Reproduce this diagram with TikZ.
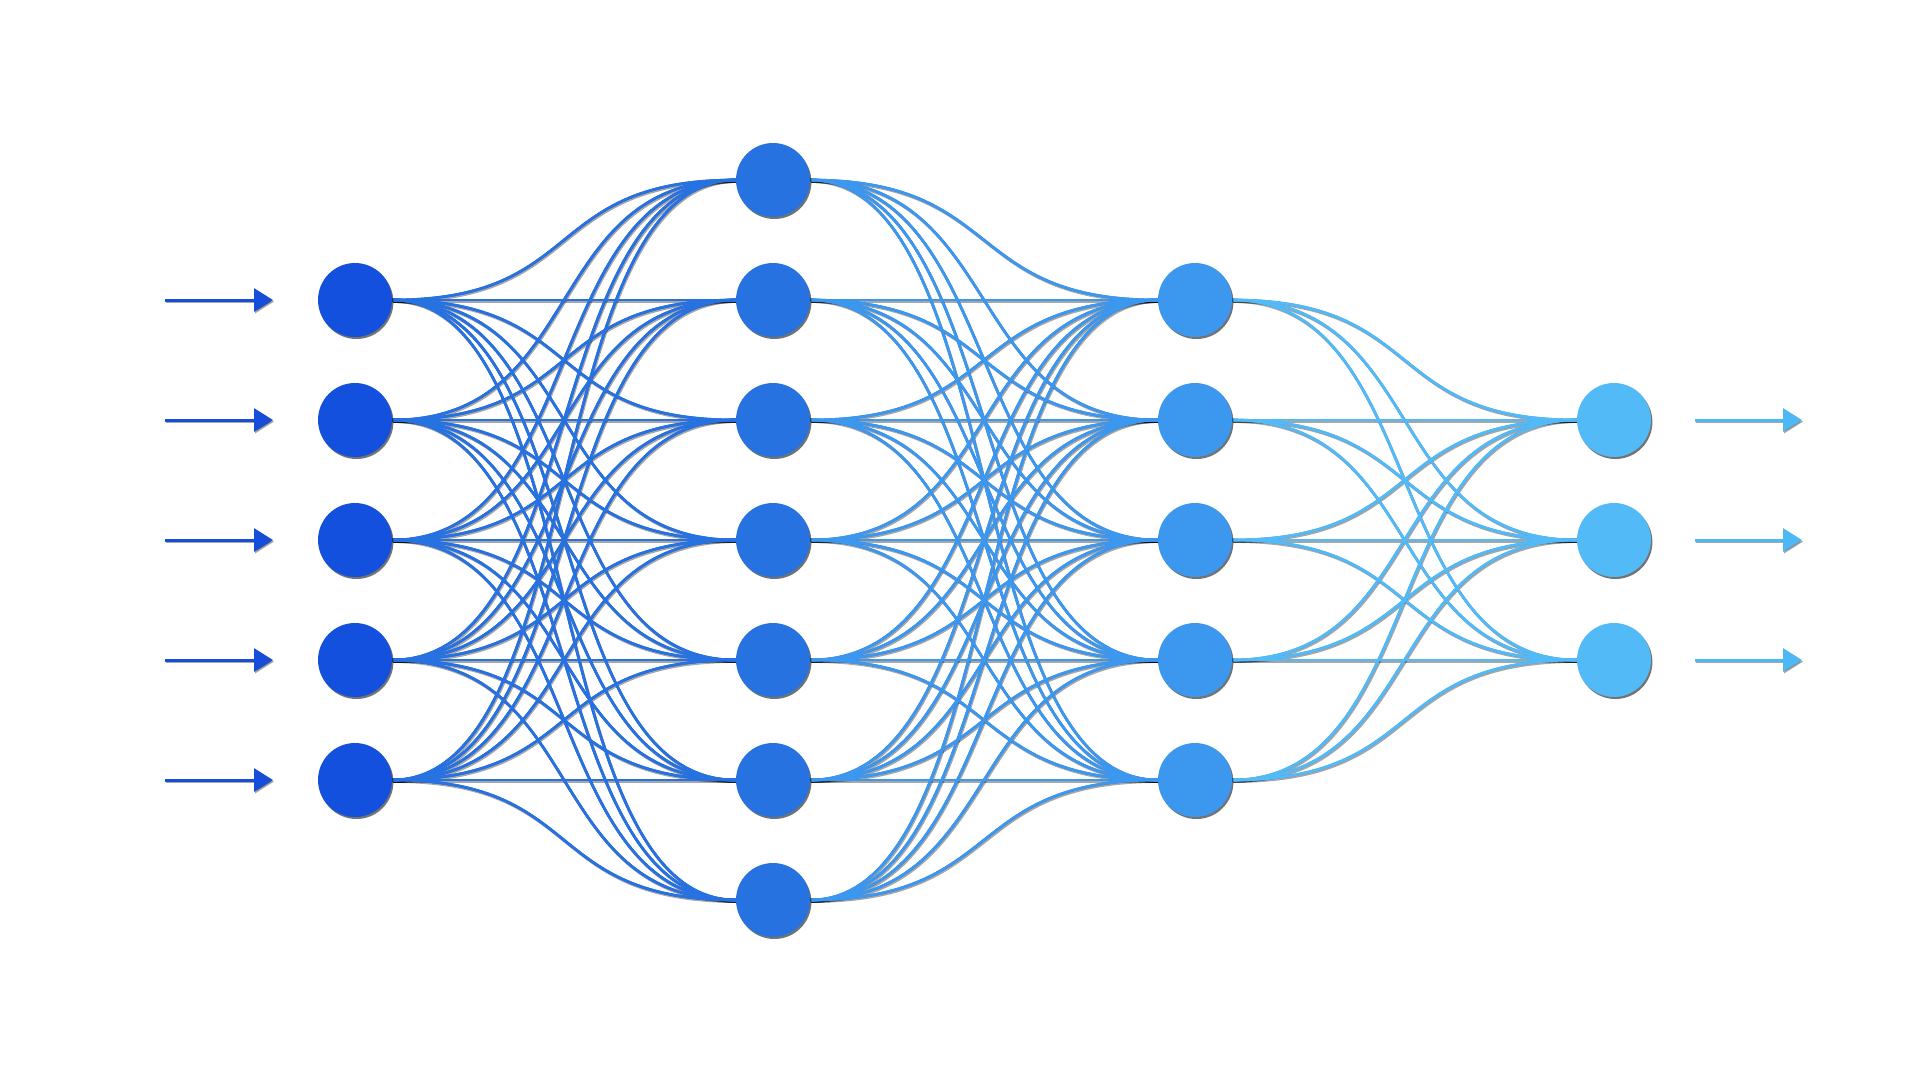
\documentclass[tikz,border=0pt]{standalone}
\usepackage{tikz}
\usetikzlibrary{arrows.meta, shadows, fadings, backgrounds}
\definecolor{layA}{HTML}{1450DE}
\definecolor{layB}{HTML}{2672E1}
\definecolor{layC}{HTML}{3B98EE}
\definecolor{layD}{HTML}{52BAF6}
\definecolor{arrIn}{HTML}{174DD8}
\definecolor{arrOut}{HTML}{4DB8F3}
\tikzstyle{neuron} = [circle, inner sep=0pt, minimum size=74pt, drop shadow={shadow xshift=1.4pt, shadow yshift=-2pt, fill=black, opacity=.55}]
\tikzstyle{synapse} = [line width=2.6pt]
\tikzstyle{synShadow} = [line width=2.6pt, draw=black, opacity=.35]
\tikzstyle{inArrow} = [line width=3pt, -{Triangle[length=19pt, width=23pt]}]
% all wires between two layers
\newcommand{\gapWires}[5]{%
  \foreach \i in {1,...,#2} \foreach \j in {1,...,#4}
    \draw[#5] (#1\i.east) .. controls +(195,0) and +(-195,0) .. (#3\j.west);%
}

\begin{document}
\begin{tikzpicture}[x=1pt, y=-1pt]
  \useasboundingbox (0,0) rectangle (1920,1080);

  % neurons
  \foreach \i/\y in {1/300,2/420,3/540,4/660,5/780}
    \node[neuron, fill=layA] (a\i) at (355,\y) {};
  \foreach \i/\y in {1/180,2/300,3/420,4/540,5/660,6/780,7/900}
    \node[neuron, fill=layB] (b\i) at (773,\y) {};
  \foreach \i/\y in {1/300,2/420,3/540,4/660,5/780}
    \node[neuron, fill=layC] (c\i) at (1195,\y) {};
  \foreach \i/\y in {1/420,2/540,3/660}
    \node[neuron, fill=layD] (d\i) at (1614,\y) {};

  % in and out arrows
  \foreach \i/\y in {1/300,2/420,3/540,4/660,5/780} {
    \coordinate (s\i) at (165,\y);
    \coordinate (t\i) at (273,\y);
  }
  \foreach \i/\y in {1/420,2/540,3/660} {
    \coordinate (u\i) at (1695,\y);
    \coordinate (v\i) at (1802,\y);
  }

  \begin{scope}[on background layer]
    % shadows
    \begin{scope}[transform canvas={shift={(1pt,-1.6pt)}}]
      \gapWires{a}{5}{b}{7}{synShadow}
      \gapWires{b}{7}{c}{5}{synShadow}
      \gapWires{c}{5}{d}{3}{synShadow}
      \foreach \i in {1,...,5}
        \draw[inArrow, synShadow, line width=3pt] (s\i) -- (t\i);
      \foreach \i in {1,...,3}
        \draw[inArrow, synShadow, line width=3pt] (u\i) -- (v\i);
    \end{scope}

    \gapWires{a}{5}{b}{7}{synapse, draw=layA}
    \begin{scope}[scope fading=west, fading transform={shift={(564,540)}, xscale=6.9, yscale=12}]
      \gapWires{a}{5}{b}{7}{synapse, draw=layB}
    \end{scope}

    \gapWires{b}{7}{c}{5}{synapse, draw=layB}
    \begin{scope}[scope fading=west, fading transform={shift={(984,540)}, xscale=6.9, yscale=12}]
      \gapWires{b}{7}{c}{5}{synapse, draw=layC}
    \end{scope}

    \gapWires{c}{5}{d}{3}{synapse, draw=layC}
    \begin{scope}[scope fading=west, fading transform={shift={(1404,540)}, xscale=6.9, yscale=12}]
      \gapWires{c}{5}{d}{3}{synapse, draw=layD}
    \end{scope}
  \end{scope}

  \foreach \i in {1,...,5}
    \draw[inArrow, draw=arrIn, fill=arrIn] (s\i) -- (t\i);
  \foreach \i in {1,...,3}
    \draw[inArrow, draw=arrOut, fill=arrOut] (u\i) -- (v\i);
\end{tikzpicture}
\end{document}
